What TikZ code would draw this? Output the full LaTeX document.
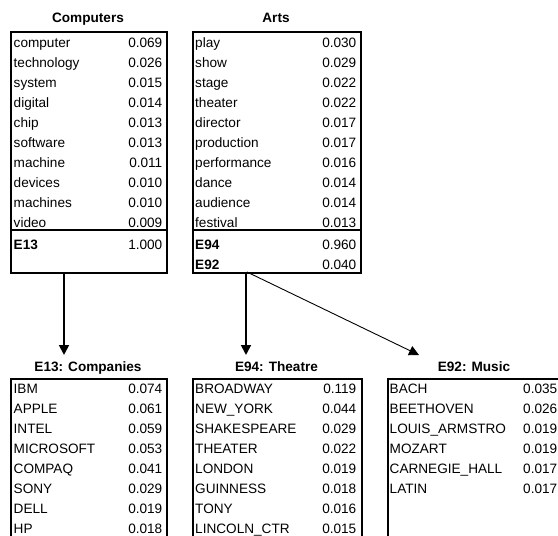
\documentclass[tikz,border=0pt]{standalone}
\usepackage{fontspec}
\setmainfont{Liberation Sans}
\usetikzlibrary{arrows.meta}
\newcommand{\fsz}{\fontsize{13.6pt}{16pt}\selectfont}
\begin{document}
\begin{tikzpicture}[x=1pt,y=-1pt,
  box/.style={draw,line width=1.6pt,inner sep=0pt,anchor=north west},
  sep/.style={line width=1.6pt},
  wl/.style={anchor=base west,inner sep=0pt,font=\fsz},
  wr/.style={anchor=base east,inner sep=0pt,font=\fsz},
  wb/.style={anchor=base west,inner sep=0pt,font=\fsz\bfseries},
  ttl/.style={anchor=base,inner sep=0pt,font=\fsz\bfseries},
  arr/.style={line width=1.8pt,-{Triangle[length=10pt,width=10pt]}},
  arrthin/.style={line width=0.9pt,-{Triangle[length=10pt,width=10pt]}}]
\useasboundingbox (0,0) rectangle (558,536);
\clip (0,0) rectangle (558,536);
% top boxes
\node[box,minimum width=156pt,minimum height=241pt] (comp) at (10,31) {};
\node[box,minimum width=168pt,minimum height=241pt] (arts) at (192,31) {};
\draw[sep] (10,230) -- (166,230);
\draw[sep] (192,230) -- (360,230);
\node[ttl] (tcomp) at (88,22.5) {Computers};
\node[ttl] (tarts) at (276,22.5) {Arts};
\foreach \w/\n [count=\i] in {computer/0.069,technology/0.026,system/0.015,digital/0.014,chip/0.013,software/0.013,machine/0.011,devices/0.010,machines/0.010,video/0.009}{
  \node[wl] (cw\i) at (13.5,{27+20*\i}) {\w};
  \node[wr] (cn\i) at (162.5,{27+20*\i}) {\n};
}
\node[wb] (ce13) at (13.5,249) {E13};
\node[wr] (cn13) at (162.5,249) {1.000};
\foreach \w/\n [count=\i] in {play/0.030,show/0.029,stage/0.022,theater/0.022,director/0.017,production/0.017,performance/0.016,dance/0.014,audience/0.014,festival/0.013}{
  \node[wl] (aw\i) at (195,{27+20*\i}) {\w};
  \node[wr] (an\i) at (356.5,{27+20*\i}) {\n};
}
\node[wb] (ae94) at (195,249) {E94};
\node[wr] (an94) at (356.5,249) {0.960};
\node[wb] (ae92) at (195,269) {E92};
\node[wr] (an92) at (356.5,269) {0.040};
% bottom boxes
\node[box,minimum width=156pt,minimum height=175pt] (comb) at (10,378) {};
\node[box,minimum width=169pt,minimum height=175pt] (theb) at (192,378) {};
\node[box,minimum width=175pt,minimum height=175pt] (musb) at (387,378) {};
\node[ttl] (tcomb) at (88,371) {E13: Companies};
\node[ttl] (ttheb) at (276.5,371) {E94: Theatre};
\node[ttl] (tmusb) at (474,371) {E92: Music};
\foreach \w/\n [count=\i] in {IBM/0.074,APPLE/0.061,INTEL/0.059,MICROSOFT/0.053,COMPAQ/0.041,SONY/0.029,DELL/0.019,HP/0.018}{
  \node[wl] (bw\i) at (13.5,{373+20*\i}) {\w};
  \node[wr] (bn\i) at (162.5,{373+20*\i}) {\n};
}
\foreach \w/\n [count=\i] in {BROADWAY/0.119,NEW\_YORK/0.044,SHAKESPEARE/0.029,THEATER/0.022,LONDON/0.019,GUINNESS/0.018,TONY/0.016,LINCOLN\_CTR/0.015}{
  \node[wl] (tw\i) at (195,{373+20*\i}) {\w};
  \node[wr] (tn\i) at (356.5,{373+20*\i}) {\n};
}
\foreach \w/\n [count=\i] in {BACH/0.035,BEETHOVEN/0.026,LOUIS\_ARMSTRO/0.019,MOZART/0.019,CARNEGIE\_HALL/0.017,LATIN/0.017}{
  \node[wl] (mw\i) at (389.5,{373+20*\i}) {\w};
  \node[wl] (mn\i) at (523,{373+20*\i}) {\n};
}
% connectors
\coordinate (e1) at (64,355);
\coordinate (e2) at (246,355);
\coordinate (e3) at (419,355);
\coordinate (s3) at (247,272);
\draw[arr] (comp.south -| e1) -- (e1);
\draw[arr] (arts.south -| e2) -- (e2);
\draw[arrthin] (s3) -- (e3);
\end{tikzpicture}
\end{document}
